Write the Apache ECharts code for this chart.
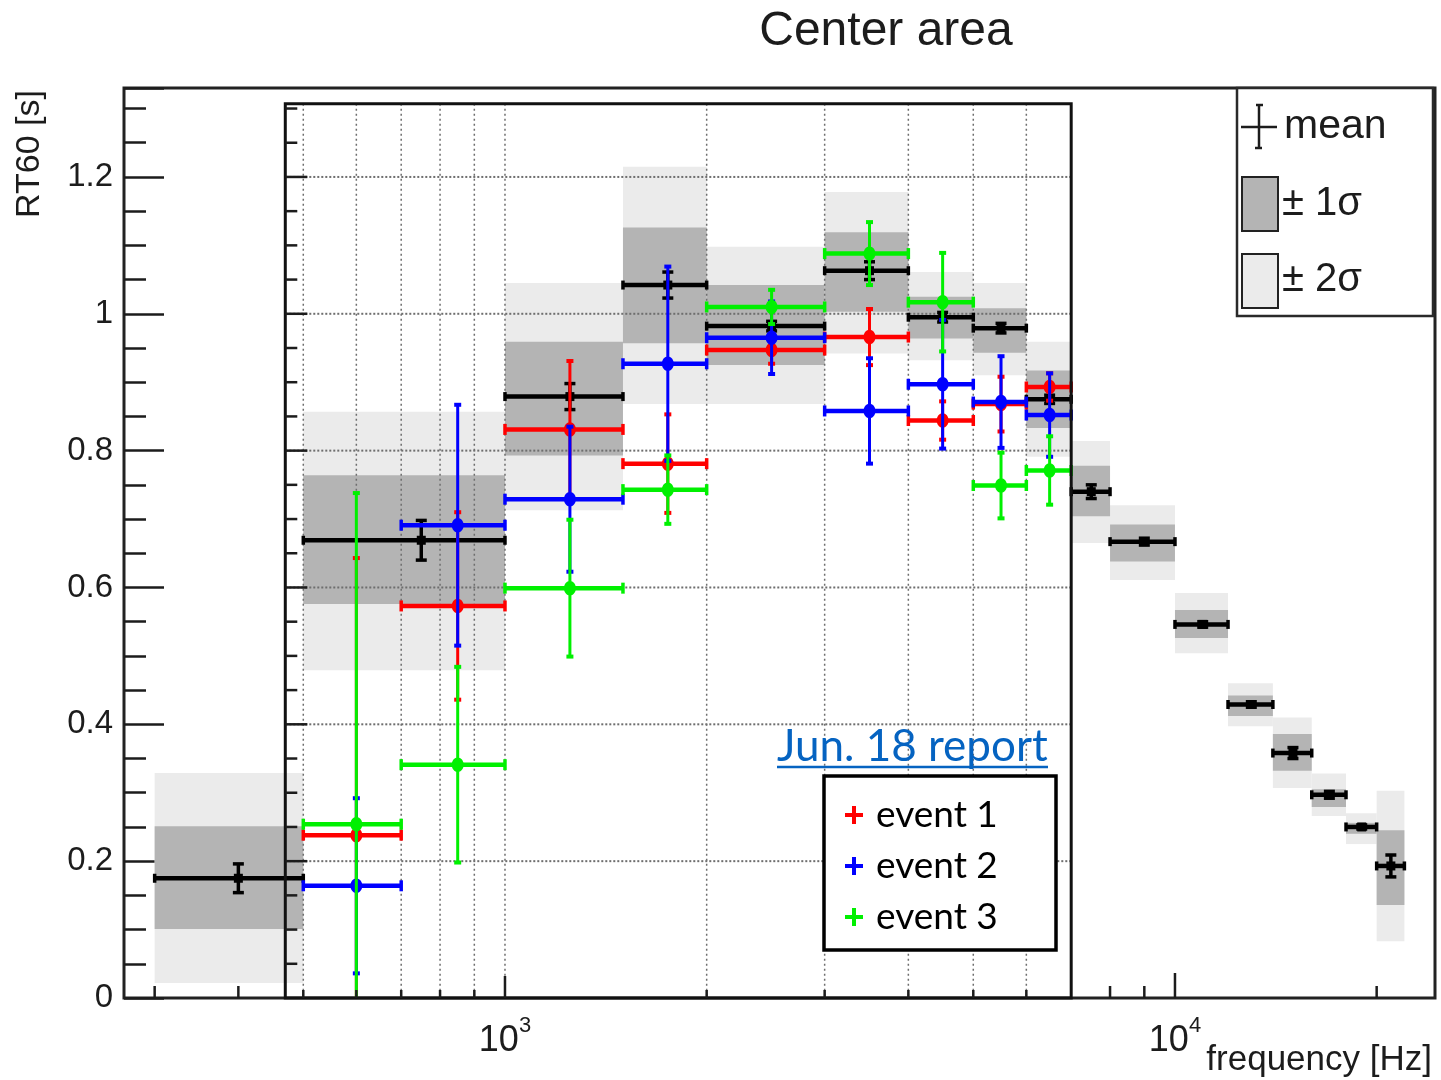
<!DOCTYPE html>
<html>
<head>
<meta charset="utf-8">
<title>Center area</title>
<script src="https://cdn.jsdelivr.net/npm/echarts@6/dist/echarts.min.js"></script>
<style>
  html, body { margin: 0; padding: 0; background: #ffffff; }
  #chart { width: 1441px; height: 1080px; }
</style>
</head>
<body>
<div id="chart"></div>
<script>
// ---- Reference RT60 distribution per frequency band (Hz) ----
const refEdges   = [300, 500, 1000, 1500, 2000, 3000, 4000, 5000, 6000, 7000, 8000, 10000, 12000, 14000, 16000, 18000, 20000, 22000];
const refMean    = [0.175, 0.669, 0.879, 1.042, 0.982, 1.063, 0.995, 0.979, 0.875, 0.740, 0.667, 0.546, 0.429, 0.358, 0.297, 0.250, 0.193];
const refMeanErr = [0.021, 0.029, 0.019, 0.019, 0.007, 0.013, 0.007, 0.007, 0.006, 0.010, 0.005, 0.004, 0.004, 0.008, 0.005, 0.003, 0.016];
const sigma1Low  = [0.101, 0.576, 0.793, 0.957, 0.925, 1.003, 0.964, 0.943, 0.833, 0.704, 0.638, 0.526, 0.412, 0.332, 0.279, 0.240, 0.136];
const sigma1High = [0.251, 0.764, 0.959, 1.126, 1.042, 1.119, 1.025, 1.008, 0.917, 0.778, 0.692, 0.567, 0.442, 0.386, 0.305, 0.256, 0.245];
const sigma2Low  = [0.022, 0.479, 0.713, 0.868, 0.868, 0.942, 0.932, 0.910, 0.791, 0.665, 0.611, 0.504, 0.397, 0.307, 0.266, 0.225, 0.083];
const sigma2High = [0.329, 0.857, 1.045, 1.215, 1.098, 1.178, 1.061, 1.045, 0.959, 0.814, 0.720, 0.592, 0.460, 0.410, 0.328, 0.270, 0.303];

// ---- Measured events (Jun. 18) ----
const eventEdges   = [500, 700, 1000, 1500, 2000, 3000, 4000, 5000, 6000, 7000];
const event1Values = [0.238, 0.573, 0.831, 0.781, 0.947, 0.966, 0.844, 0.868, 0.893];
const event1Errors = [0.405, 0.137, 0.100, 0.072, 0.020, 0.041, 0.028, 0.040, 0.020];
const event2Values = [0.164, 0.691, 0.729, 0.927, 0.965, 0.858, 0.897, 0.871, 0.852];
const event2Errors = [0.128, 0.176, 0.106, 0.142, 0.053, 0.077, 0.094, 0.067, 0.061];
const event3Values = [0.254, 0.341, 0.599, 0.743, 1.010, 1.088, 1.017, 0.749, 0.771];
const event3Errors = [0.484, 0.143, 0.100, 0.050, 0.025, 0.046, 0.072, 0.048, 0.050];
const eventNames   = ['event 1', 'event 2', 'event 3'];
const eventColors  = ['#ff0000', '#0000ff', '#00f000'];

// ---- Axes and ticks ----
const xRange = [270, 24440];
const yRange = [0, 1.33];
const insetXRange = [470, 7000];
const insetYRange = [0, 1.307];
const xOuterTicks = [300, 400, 8000, 9000, 10000, 20000];
const xInsetTicks = [500, 600, 700, 800, 900, 1000, 2000, 3000, 4000, 5000, 6000];
const xTickLabels = [1000, 10000];
const insetGridX = [500, 600, 700, 800, 900, 1000, 2000, 3000, 4000, 5000, 6000];
const insetGridY = [0.2, 0.4, 0.6, 0.8, 1.0, 1.2];
const insetYTicks = [0.05, 0.1, 0.15, 0.2, 0.25, 0.3, 0.35, 0.4, 0.45, 0.5, 0.55, 0.6, 0.65, 0.7, 0.75, 0.8, 0.85, 0.9, 0.95, 1.0, 1.05, 1.1, 1.15, 1.2, 1.25, 1.3];

const ROOT_FONT = '"Liberation Sans", Arial, Helvetica, sans-serif';
const NOTE_FONT = 'Lato, "Open Sans", sans-serif';
const INK = '#1c1c1c';

function binRows(edges) {
  const cols = Array.prototype.slice.call(arguments, 1);
  return edges.slice(0, -1).map((lo, i) => [lo, edges[i + 1]].concat(cols.map(c => c[i])));
}

// shaded sigma band per bin
function bandSeries(name, low, high, color, z) {
  return {
    type: 'custom', name: name, silent: true, z: z,
    encode: { x: [0, 1], y: [2, 3] },
    data: binRows(refEdges, low, high),
    renderItem(params, api) {
      const a = api.coord([api.value(0), api.value(3)]);
      const b = api.coord([api.value(1), api.value(2)]);
      return { type: 'rect', shape: { x: a[0], y: a[1], width: b[0] - a[0], height: b[1] - a[1] },
               style: { fill: color } };
    }
  };
}

// horizontal bin bar with vertical error bar
function errorCross(api, st) {
  const lo = api.value(0), hi = api.value(1), v = api.value(2), e = api.value(3);
  const xc = (lo + hi) / 2;
  const L = api.coord([lo, v]), R = api.coord([hi, v]);
  const top = api.coord([xc, Math.min(v + e, yRange[1])]);
  const botVal = Math.max(v - e, yRange[0]);
  const bot = api.coord([xc, botVal]);
  const c = api.coord([xc, v]);
  const kids = [];
  kids.push({ type: 'line', shape: { x1: top[0], y1: top[1], x2: bot[0], y2: bot[1] },
              style: { stroke: st.color, lineWidth: st.vWidth } });
  kids.push({ type: 'line', shape: { x1: top[0] - st.capW / 2, y1: top[1], x2: top[0] + st.capW / 2, y2: top[1] },
              style: { stroke: st.color, lineWidth: st.capT } });
  if (botVal > yRange[0]) {
    kids.push({ type: 'line', shape: { x1: bot[0] - st.capW / 2, y1: bot[1], x2: bot[0] + st.capW / 2, y2: bot[1] },
                style: { stroke: st.color, lineWidth: st.capT } });
  }
  kids.push({ type: 'line', shape: { x1: L[0], y1: L[1], x2: R[0], y2: R[1] },
              style: { stroke: st.color, lineWidth: st.hWidth } });
  [L, R].forEach(p => kids.push({ type: 'line',
    shape: { x1: p[0], y1: p[1] - st.endH / 2, x2: p[0], y2: p[1] + st.endH / 2 },
    style: { stroke: st.color, lineWidth: st.endT } }));
  if (st.marker === 'circle') {
    kids.push({ type: 'ellipse', shape: { cx: c[0], cy: c[1], rx: st.markR, ry: st.markR * 1.2 }, style: { fill: st.color } });
  } else {
    kids.push({ type: 'rect', shape: { x: c[0] - st.markR, y: c[1] - st.markR, width: 2 * st.markR, height: 2 * st.markR },
                style: { fill: st.color } });
  }
  return { type: 'group', children: kids };
}

const meanStyle = { color: '#000000', vWidth: 3.5, capW: 11, capT: 3.5, hWidth: 4.5, endH: 9, endT: 3.5, marker: 'rect', markR: 4.5 };

function eventSeries(idx, values, errors) {
  const st = { color: eventColors[idx], vWidth: 3, capW: 7, capT: 4, hWidth: 4.5, endH: 11, endT: 3.5, marker: 'circle', markR: 6 };
  return {
    type: 'custom', name: eventNames[idx], silent: true, z: 6 + idx,
    encode: { x: [0, 1], y: [2] },
    data: binRows(eventEdges, values, errors),
    renderItem(params, api) { return errorCross(api, st); }
  };
}

const series = [
  bandSeries('± 2σ', sigma2Low, sigma2High, '#ebebeb', 1),
  bandSeries('± 1σ', sigma1Low, sigma1High, '#b4b4b4', 2),
  // dotted grid of the event panel: verticals
  {
    type: 'custom', name: 'gridX', silent: true, z: 3,
    encode: { x: 0, y: 1 },
    data: insetGridX.map(v => [v, insetYRange[0]]),
    renderItem(params, api) {
      const a = api.coord([api.value(0), insetYRange[1]]);
      const b = api.coord([api.value(0), insetYRange[0]]);
      return { type: 'line', shape: { x1: a[0], y1: a[1], x2: b[0], y2: b[1] },
               style: { stroke: '#6e6e6e', lineWidth: 1.5, lineDash: [2, 3] } };
    }
  },
  // dotted grid of the event panel: horizontals
  {
    type: 'custom', name: 'gridY', silent: true, z: 3,
    encode: { x: 0, y: 1 },
    data: insetGridY.map(v => [insetXRange[0], v]),
    renderItem(params, api) {
      const a = api.coord([insetXRange[0], api.value(1)]);
      const b = api.coord([insetXRange[1], api.value(1)]);
      return { type: 'line', shape: { x1: a[0], y1: a[1], x2: b[0], y2: b[1] },
               style: { stroke: '#6e6e6e', lineWidth: 2, lineDash: [2, 2] } };
    }
  },
  {
    type: 'custom', name: 'mean', silent: true, z: 4,
    encode: { x: [0, 1], y: [2] },
    data: binRows(refEdges, refMean, refMeanErr),
    renderItem(params, api) { return errorCross(api, meanStyle); }
  },
  eventSeries(0, event1Values, event1Errors),
  eventSeries(1, event2Values, event2Errors),
  eventSeries(2, event3Values, event3Errors),
  // frame and left ticks of the event panel
  {
    type: 'custom', name: 'insetFrame', silent: true, z: 10,
    encode: { x: [0, 1], y: [2, 3] },
    data: [[insetXRange[0], insetXRange[1], insetYRange[0], insetYRange[1]]],
    renderItem(params, api) {
      const a = api.coord([api.value(0), api.value(3)]);
      const b = api.coord([api.value(1), api.value(2)]);
      return { type: 'rect', shape: { x: a[0], y: a[1], width: b[0] - a[0], height: b[1] - a[1] },
               style: { fill: null, stroke: '#111111', lineWidth: 3 } };
    }
  },
  {
    type: 'custom', name: 'insetYTicks', silent: true, z: 10,
    encode: { x: 0, y: 1 },
    data: insetYTicks.map(v => [insetXRange[0], v]),
    renderItem(params, api) {
      const v = api.value(1);
      const p = api.coord([insetXRange[0], v]);
      const major = Math.abs(v / 0.2 - Math.round(v / 0.2)) < 1e-6;
      const len = major ? 22 : 12;
      return { type: 'line', shape: { x1: p[0], y1: p[1], x2: p[0] + len, y2: p[1] },
               style: { stroke: INK, lineWidth: 2.5 } };
    }
  },
  // ticks along the frequency axis
  {
    type: 'custom', name: 'xTicks', silent: true, z: 10,
    encode: { x: 0, y: 1 },
    data: xOuterTicks.map(v => [v, 0, 0]).concat(xInsetTicks.map(v => [v, 0, 1])),
    renderItem(params, api) {
      const v = api.value(0), inset = api.value(2);
      const p = api.coord([v, yRange[0]]);
      const lg = Math.log10(v);
      const decade = Math.abs(lg - Math.round(lg)) < 1e-9;
      const len = inset ? (decade ? 22 : 8) : (decade ? 25 : 12);
      return { type: 'line', shape: { x1: p[0], y1: p[1], x2: p[0], y2: p[1] - len },
               style: { stroke: INK, lineWidth: 2.5 } };
    }
  },
  {
    type: 'custom', name: 'xLabels', silent: true, z: 10,
    encode: { x: 0, y: 1 },
    data: xTickLabels.map(v => [v, 0]),
    renderItem(params, api) {
      const v = api.value(0);
      const p = api.coord([v, yRange[0]]);
      const e = Math.round(Math.log10(v));
      return {
        type: 'text', x: p[0], y: p[1] + 17,
        style: {
          text: '{b|10}{e|' + e + '}',
          align: 'center', verticalAlign: 'top',
          rich: {
            b: { fontSize: 36, fontFamily: ROOT_FONT, fill: INK, lineHeight: 44, verticalAlign: 'bottom' },
            e: { fontSize: 22, fontFamily: ROOT_FONT, fill: INK, lineHeight: 22, verticalAlign: 'top' }
          }
        }
      };
    }
  }
];

const graphic = [
  { type: 'text', x: 886, y: 32, z: 20,
    style: { text: 'Center area', fontSize: 48, fontFamily: ROOT_FONT, fill: INK, align: 'center', verticalAlign: 'middle' } },
  { type: 'text', x: 30, y: 154, rotation: Math.PI / 2, z: 20,
    style: { text: 'RT60 [s]', fontSize: 34, fontFamily: ROOT_FONT, fill: INK, align: 'center', verticalAlign: 'middle' } },
  { type: 'text', x: 1432, y: 1060, z: 20,
    style: { text: 'frequency [Hz]', fontSize: 35, fontFamily: ROOT_FONT, fill: INK, align: 'right', verticalAlign: 'middle' } },

  // statistics legend
  { type: 'rect', z: 20, shape: { x: 1237, y: 88, width: 196, height: 228 },
    style: { fill: '#ffffff', stroke: '#2a2a2a', lineWidth: 2.5 } },
  { type: 'line', z: 21, shape: { x1: 1241, y1: 127, x2: 1277, y2: 127 }, style: { stroke: INK, lineWidth: 2.5 } },
  { type: 'line', z: 21, shape: { x1: 1259, y1: 105, x2: 1259, y2: 148 }, style: { stroke: INK, lineWidth: 2.5 } },
  { type: 'line', z: 21, shape: { x1: 1256, y1: 105, x2: 1263, y2: 105 }, style: { stroke: INK, lineWidth: 2.5 } },
  { type: 'line', z: 21, shape: { x1: 1255, y1: 148, x2: 1262, y2: 148 }, style: { stroke: INK, lineWidth: 2.5 } },
  { type: 'text', x: 1284, y: 127, z: 21,
    style: { text: 'mean', fontSize: 41, fontFamily: ROOT_FONT, fill: INK, align: 'left', verticalAlign: 'middle' } },
  { type: 'rect', z: 21, shape: { x: 1242, y: 177, width: 36, height: 54 },
    style: { fill: '#b4b4b4', stroke: '#222222', lineWidth: 2 } },
  { type: 'text', x: 1282, y: 204, z: 21,
    style: { text: '± 1σ', fontSize: 40, fontFamily: ROOT_FONT, fill: INK, align: 'left', verticalAlign: 'middle' } },
  { type: 'rect', z: 21, shape: { x: 1242, y: 254, width: 36, height: 54 },
    style: { fill: '#ebebeb', stroke: '#222222', lineWidth: 2 } },
  { type: 'text', x: 1282, y: 280, z: 21,
    style: { text: '± 2σ', fontSize: 40, fontFamily: ROOT_FONT, fill: INK, align: 'left', verticalAlign: 'middle' } },

  // report note
  { type: 'text', x: 777, y: 747, z: 20,
    style: { text: 'Jun. 18 report', fontSize: 44, fontFamily: NOTE_FONT, fill: '#0563c1', align: 'left', verticalAlign: 'middle' } },
  { type: 'line', z: 20, shape: { x1: 777, y1: 767, x2: 1048, y2: 767 }, style: { stroke: '#0563c1', lineWidth: 2.5 } },

  // events legend
  { type: 'rect', z: 20, shape: { x: 824, y: 776, width: 232, height: 174 },
    style: { fill: '#ffffff', stroke: '#000000', lineWidth: 3.5 } }
];
eventNames.forEach((name, i) => {
  const cy = 815 + i * 51;
  graphic.push({ type: 'rect', z: 21, shape: { x: 845, y: cy - 2, width: 18, height: 4 }, style: { fill: eventColors[i] } });
  graphic.push({ type: 'rect', z: 21, shape: { x: 852, y: cy - 9, width: 4, height: 18 }, style: { fill: eventColors[i] } });
  graphic.push({ type: 'text', x: 876, y: cy, z: 21,
    style: { text: name, fontSize: 37, fontFamily: NOTE_FONT, fill: '#000000', align: 'left', verticalAlign: 'middle' } });
});

const chart = echarts.init(document.getElementById('chart'), null, { renderer: 'canvas' });
chart.setOption({
  animation: false,
  backgroundColor: '#ffffff',
  grid: { left: 124, top: 88, width: 1311, height: 910, show: true,
          borderColor: '#222222', borderWidth: 3, backgroundColor: 'transparent' },
  xAxis: {
    type: 'log', logBase: 10, min: xRange[0], max: xRange[1],
    axisLine: { show: false }, axisTick: { show: false }, axisLabel: { show: false },
    splitLine: { show: false }, minorTick: { show: false }, minorSplitLine: { show: false }
  },
  yAxis: {
    type: 'value', min: yRange[0], max: yRange[1], interval: 0.2,
    axisLine: { show: false },
    axisTick: { show: true, inside: true, length: 40, lineStyle: { color: INK, width: 2.5 } },
    minorTick: { show: true, splitNumber: 4, length: 22, lineStyle: { color: INK, width: 2.5 } },
    splitLine: { show: false },
    axisLabel: {
      showMaxLabel: false, margin: 11, fontSize: 33, fontFamily: ROOT_FONT, color: INK,
      formatter: v => (Math.abs(v / 0.2 - Math.round(v / 0.2)) < 1e-6 ? String(Math.round(v * 10) / 10) : '')
    }
  },
  series: series,
  graphic: graphic
});
</script>
</body>
</html>
